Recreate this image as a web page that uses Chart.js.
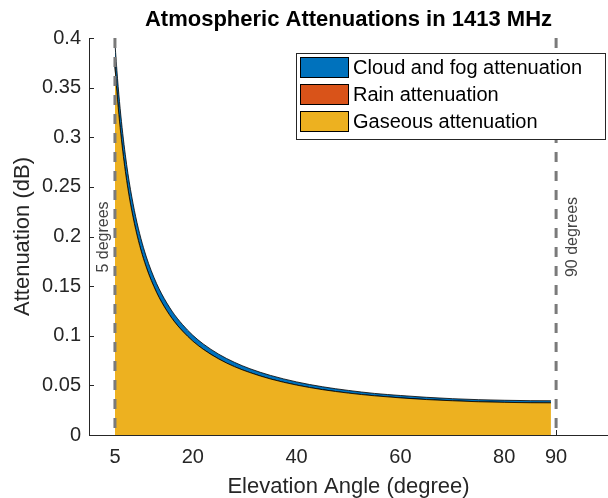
<!DOCTYPE html>
<html>
<head>
<meta charset="utf-8">
<script src="https://cdn.jsdelivr.net/npm/chart.js@4.4.0/dist/chart.umd.min.js"></script>
<style>
  html, body { margin: 0; padding: 0; background: #ffffff; }
  #wrap { width: 608px; height: 498px; position: relative; }
</style>
</head>
<body>
<div id="wrap"><canvas id="c" width="608" height="498"></canvas></div>
<script>
// ---- data ----
const elevation = [5, 5.5, 6, 6.5, 7, 7.5, 8, 9, 10, 11, 12, 13, 14, 16, 18, 20, 22, 25, 28, 31, 35, 40, 45, 50, 55, 60, 65, 70, 75, 80, 85, 89];
const gaseous   = [0.3714, 0.3377, 0.3097, 0.2860, 0.2656, 0.2480, 0.2326, 0.2070, 0.1864, 0.1696, 0.1557, 0.1439, 0.1338, 0.1174, 0.1048, 0.0946, 0.0864, 0.0766, 0.0689, 0.0629, 0.0564, 0.0503, 0.0457, 0.0422, 0.0395, 0.0374, 0.0357, 0.0345, 0.0335, 0.0329, 0.0325, 0.0324];
const rain      = [0, 0, 0, 0, 0, 0, 0, 0, 0, 0, 0, 0, 0, 0, 0, 0, 0, 0, 0, 0, 0, 0, 0, 0, 0, 0, 0, 0, 0, 0, 0, 0];
const cloudFog  = [0.0233, 0.0212, 0.0194, 0.0179, 0.0167, 0.0155, 0.0146, 0.0129, 0.0117, 0.0107, 0.0098, 0.0090, 0.0084, 0.0074, 0.0066, 0.0059, 0.0054, 0.0048, 0.0044, 0.0039, 0.0036, 0.0032, 0.0029, 0.0027, 0.0024, 0.0024, 0.0023, 0.0021, 0.0021, 0.0021, 0.0021, 0.0021];
const markerAngles = [5, 90];
const markerLabels = ['5 degrees', '90 degrees'];
const xTicks = [5, 20, 40, 60, 80, 90];
const yTicks = [0, 0.05, 0.1, 0.15, 0.2, 0.25, 0.3, 0.35, 0.4];
const yTickLabels = ['0', '0.05', '0.1', '0.15', '0.2', '0.25', '0.3', '0.35', '0.4'];
const seriesNames = ['Cloud and fog attenuation', 'Rain attenuation', 'Gaseous attenuation'];
const seriesColors = ['#0072BD', '#D95319', '#EDB120'];
const titleText = 'Atmospheric Attenuations in 1413 MHz';
const xTitle = 'Elevation Angle (degree)';
const yTitle = 'Attenuation (dB)';

const FONT = '"Liberation Sans", Arial, Helvetica, sans-serif';
const AXIS = '#262626';

function pts(arr) { return elevation.map((x, i) => ({ x: x, y: arr[i] })); }

const areaCommon = {
  borderColor: '#000000', borderWidth: 0.8, pointRadius: 0, pointHoverRadius: 0,
  cubicInterpolationMode: 'monotone', stack: 'atm', order: 2
};

const datasets = [
  Object.assign({}, areaCommon, { label: seriesNames[2], data: pts(gaseous), backgroundColor: seriesColors[2], fill: 'origin' }),
  Object.assign({}, areaCommon, { label: seriesNames[1], data: pts(rain), backgroundColor: seriesColors[1], fill: '-1' }),
  Object.assign({}, areaCommon, { label: seriesNames[0], data: pts(cloudFog), backgroundColor: seriesColors[0], fill: '-1' })
];
markerAngles.forEach((a, i) => {
  datasets.push({
    label: markerLabels[i],
    data: [{ x: a, y: yTicks[yTicks.length - 1] }, { x: a, y: 0 }],
    borderColor: '#7a7a7a', borderWidth: 3, borderDash: [10, 9],
    pointRadius: 0, fill: false, stack: 'marker' + i, order: 1, tension: 0
  });
});

const decor = {
  id: 'decor',
  beforeDatasetsDraw(chart) {
    const ctx = chart.ctx, x = chart.scales.x, y = chart.scales.y, ca = chart.chartArea;
    ctx.save();
    ctx.strokeStyle = AXIS; ctx.lineWidth = 1;
    xTicks.forEach(v => {
      const px = Math.round(x.getPixelForValue(v)) + 0.5;
      ctx.beginPath(); ctx.moveTo(px, ca.bottom); ctx.lineTo(px, ca.bottom - 5); ctx.stroke();
    });
    yTicks.forEach(v => {
      const py = Math.round(y.getPixelForValue(v)) + 0.5;
      ctx.beginPath(); ctx.moveTo(ca.left, py); ctx.lineTo(ca.left + 5, py); ctx.stroke();
    });
    ctx.restore();
  },
  afterDraw(chart) {
    const ctx = chart.ctx, x = chart.scales.x, y = chart.scales.y, ca = chart.chartArea;
    ctx.save();
    // title
    ctx.fillStyle = '#000000';
    ctx.font = 'bold 22px ' + FONT;
    ctx.textAlign = 'center'; ctx.textBaseline = 'middle';
    ctx.fillText(titleText, (ca.left + ca.right) / 2, 20);
    // axis titles
    ctx.fillStyle = AXIS;
    ctx.font = '22px ' + FONT;
    ctx.fillText(xTitle, (ca.left + ca.right) / 2, 487);
    ctx.save();
    ctx.translate(23, (ca.top + ca.bottom) / 2);
    ctx.rotate(-Math.PI / 2);
    ctx.fillText(yTitle, 0, 0);
    ctx.restore();
    // marker labels
    ctx.fillStyle = '#444444';
    ctx.font = '16px ' + FONT;
    markerAngles.forEach((a, i) => {
      const px = x.getPixelForValue(a) + (i === 0 ? -11 : 16);
      ctx.save();
      ctx.translate(px, 237);
      ctx.rotate(-Math.PI / 2);
      ctx.textAlign = 'center'; ctx.textBaseline = 'middle';
      ctx.fillText(markerLabels[i], 0, 0);
      ctx.restore();
    });
    // legend
    const lx = 296.5, ly = 53.5, lw = 309, lh = 86;
    ctx.fillStyle = '#ffffff';
    ctx.fillRect(lx, ly, lw, lh);
    ctx.strokeStyle = AXIS; ctx.lineWidth = 1;
    ctx.strokeRect(lx, ly, lw, lh);
    ctx.font = '20px ' + FONT;
    ctx.textAlign = 'left'; ctx.textBaseline = 'middle';
    seriesNames.forEach((name, i) => {
      const top = 57.5 + i * 27;
      ctx.fillStyle = seriesColors[i];
      ctx.fillRect(300.5, top, 48, 20);
      ctx.strokeStyle = '#000000';
      ctx.strokeRect(300.5, top, 48, 20);
      ctx.fillStyle = '#000000';
      ctx.fillText(name, 353, top + 10.5);
    });
    ctx.restore();
  }
};

new Chart(document.getElementById('c'), {
  type: 'line',
  data: { datasets: datasets },
  options: {
    responsive: false,
    animation: false,
    devicePixelRatio: 1,
    layout: { padding: { top: 38, right: 0, left: 0, bottom: 0 } },
    plugins: { legend: { display: false }, title: { display: false }, tooltip: { enabled: false } },
    elements: { line: { borderJoinStyle: 'round' } },
    scales: {
      x: {
        type: 'linear', min: 0, max: 100,
        afterFit: s => { s.height = 63; },
        afterBuildTicks: s => { s.ticks = xTicks.map(v => ({ value: v })); },
        grid: { display: true, drawOnChartArea: false, drawTicks: false },
        border: { display: true, color: AXIS, width: 1 },
        ticks: { color: AXIS, font: { family: FONT, size: 20 }, padding: 10, maxRotation: 0, autoSkip: false,
                 callback: v => String(v) }
      },
      y: {
        type: 'linear', min: 0, max: 0.4, stacked: true,
        afterFit: s => { s.width = 89; },
        afterBuildTicks: s => { s.ticks = yTicks.map(v => ({ value: v })); },
        grid: { display: true, drawOnChartArea: false, drawTicks: false },
        border: { display: true, color: AXIS, width: 1 },
        ticks: { color: AXIS, font: { family: FONT, size: 20 }, padding: 8, autoSkip: false,
                 callback: (v, i) => yTickLabels[i] }
      }
    }
  },
  plugins: [decor]
});
</script>
</body>
</html>
